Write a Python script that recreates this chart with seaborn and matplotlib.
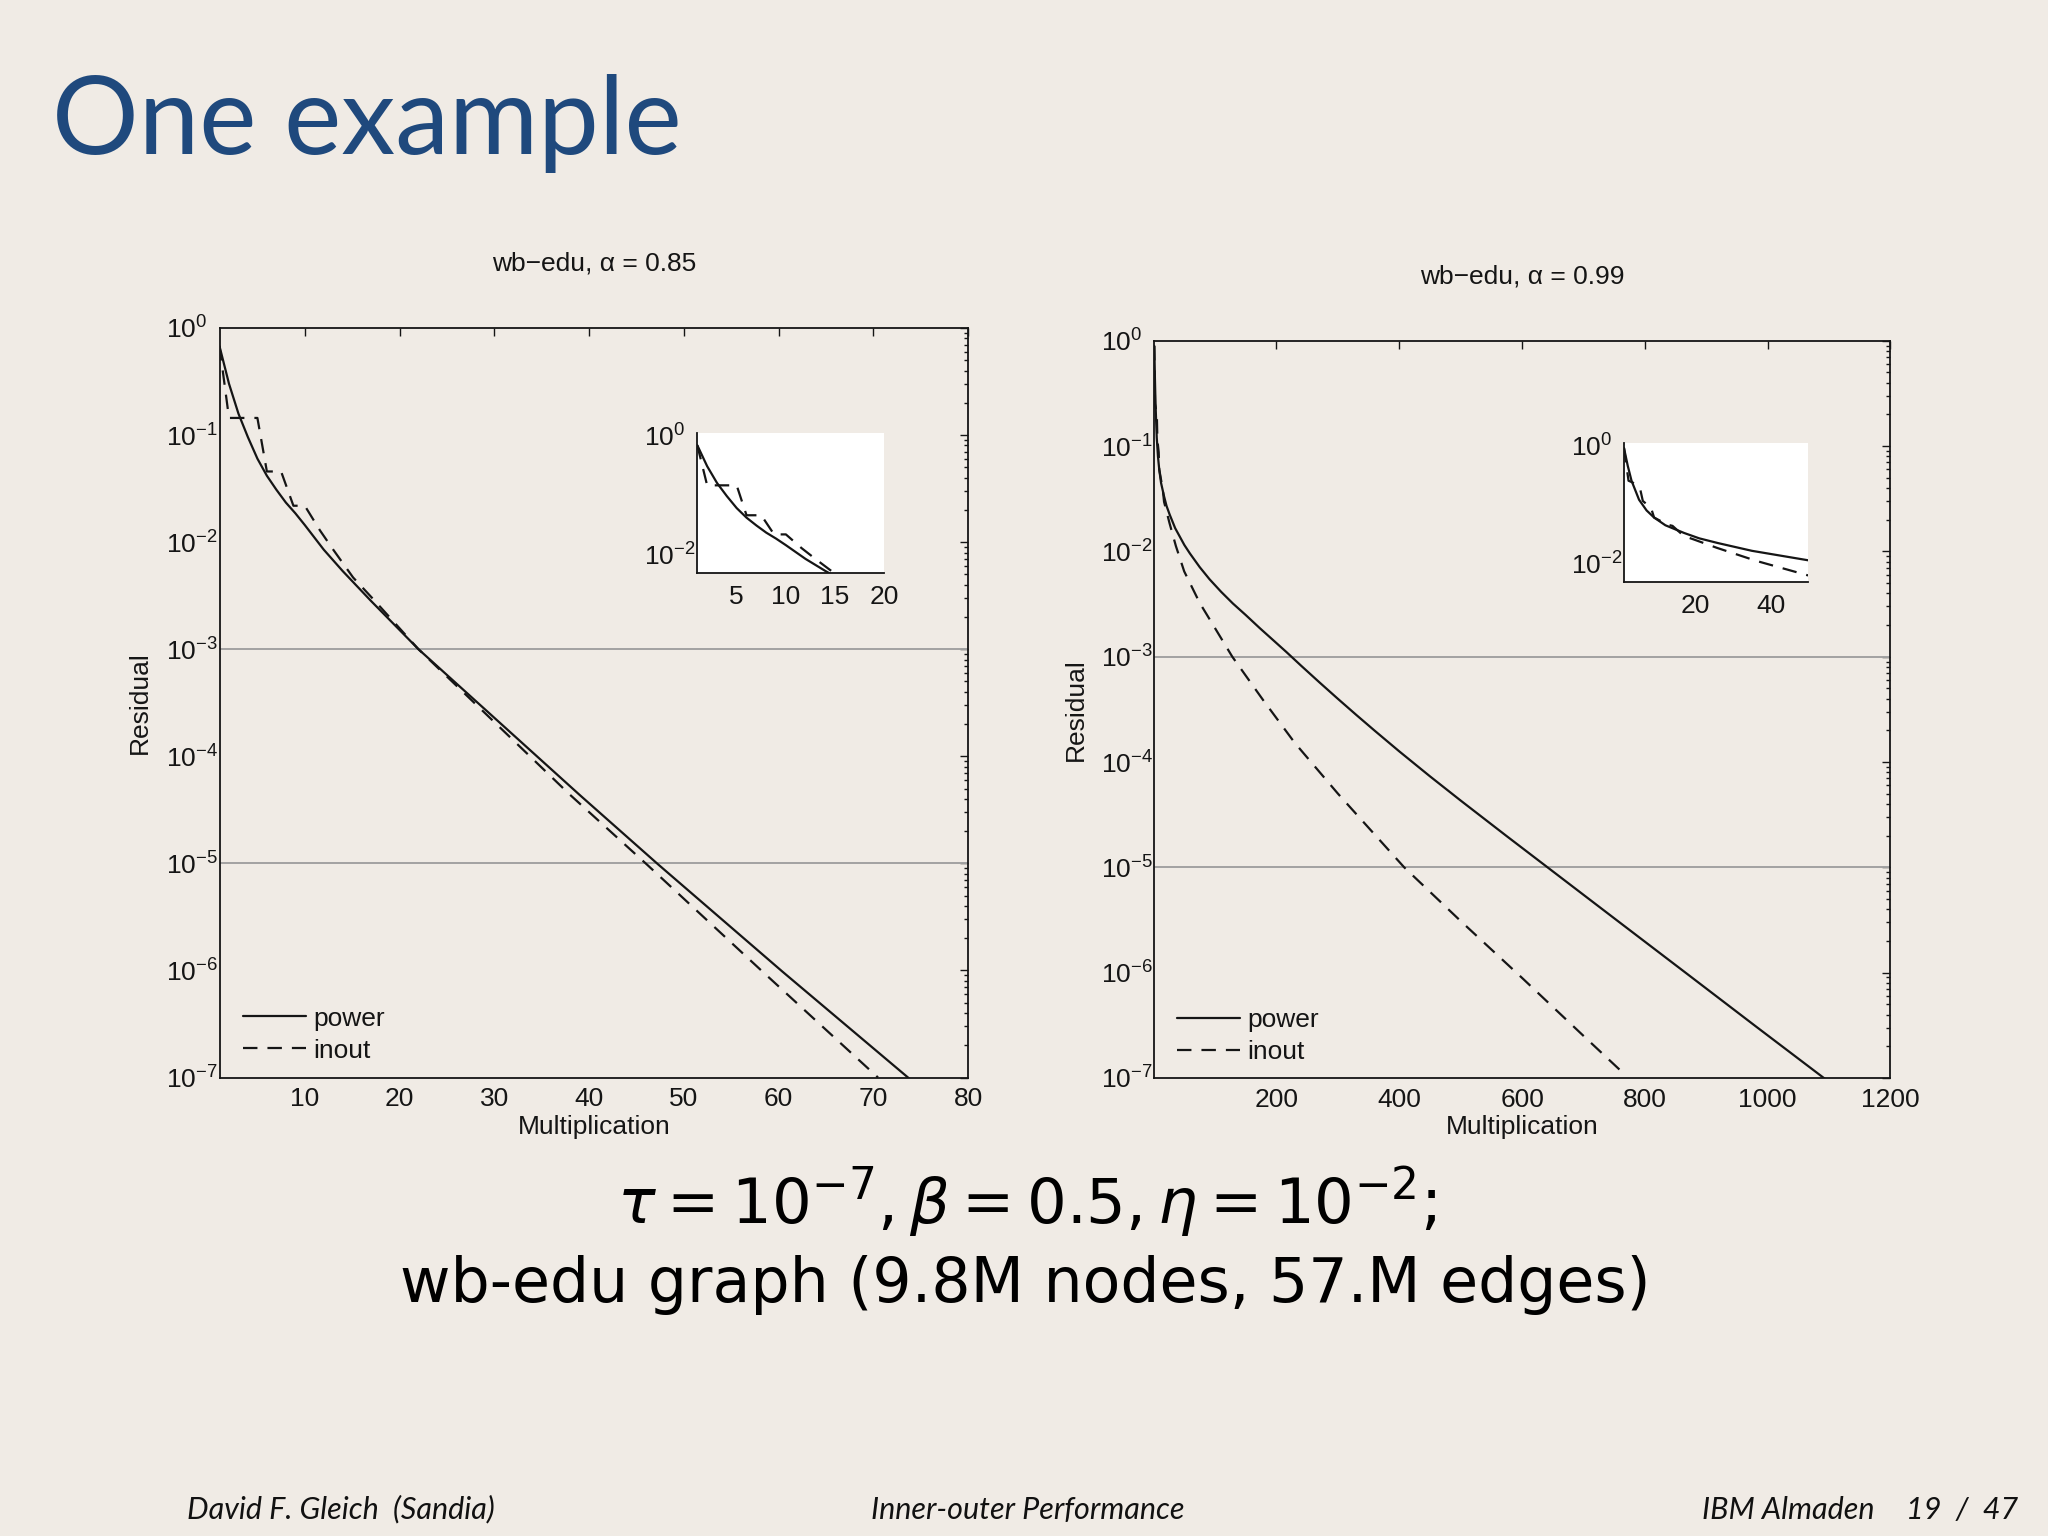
import numpy as np
import pandas as pd
import matplotlib
matplotlib.use("Agg")
import matplotlib.pyplot as plt
import seaborn as sns
from matplotlib.ticker import LogLocator, NullLocator, NullFormatter

# ---------------- data ----------------
# alpha = 0.85 : residual exponents (log10) vs. multiplications
power_085_x = [1, 2, 3, 4, 5, 6, 7, 8, 9, 10, 12, 14, 17, 22, 30, 39, 47.3, 60.4, 73.8]
power_085_log = [-0.17, -0.52, -0.80, -1.02, -1.22, -1.38, -1.51, -1.63, -1.73, -1.84,
                 -2.07, -2.27, -2.55, -3.00, -3.64, -4.36, -5.01, -6.01, -7.01]
inout_085_x = [1, 2, 5, 6, 7.5, 8.8, 10, 11.6, 13, 15.1, 17.2, 22, 38, 46.1, 58.3, 70.5]
inout_085_log = [-0.17, -0.84, -0.84, -1.34, -1.34, -1.66, -1.66, -1.89, -2.07, -2.33,
                 -2.53, -3.00, -4.36, -5.01, -6.01, -7.00]

# alpha = 0.99
power_099_x = [1, 2, 3, 5, 7, 9, 12, 17, 21, 26, 35, 50, 59, 75, 91, 110, 129, 150, 173,
               195, 216, 240, 270, 300, 330, 360, 400, 450, 500, 575, 650, 760, 870, 980, 1096]
power_099_log = [-0.05, -0.35, -0.60, -0.92, -1.10, -1.22, -1.35, -1.48, -1.57, -1.65,
                 -1.78, -1.94, -2.02, -2.15, -2.265, -2.385, -2.495, -2.605, -2.73,
                 -2.845, -2.955, -3.085, -3.244, -3.40, -3.553, -3.703, -3.899, -4.136,
                 -4.366, -4.704, -5.038, -5.528, -6.017, -6.507, -7.02]
inout_099_x = [1, 2.2, 3.3, 5.3, 6.0, 8.2, 9.0, 12.6, 13.9, 16.9, 19.6, 25.7, 36.2, 49.7,
               75, 100, 128, 178, 230, 300, 408, 500, 600, 700, 766]
inout_099_log = [-0.05, -0.60, -0.63, -0.74, -0.94, -1.06, -1.22, -1.34, -1.36, -1.53,
                 -1.59, -1.73, -1.95, -2.19, -2.49, -2.73, -3.00, -3.41, -3.82, -4.30,
                 -5.00, -5.51, -6.05, -6.60, -6.96]

methods = ["power", "inout"]
titles = ["wb\u2212edu, \u03b1 = 0.85", "wb\u2212edu, \u03b1 = 0.99"]
xticks_085 = [10, 20, 30, 40, 50, 60, 70, 80]
xticks_099 = [200, 400, 600, 800, 1000, 1200]
inset_xticks_085 = [5, 10, 15, 20]
inset_xticks_099 = [20, 40]
ytick_exps = [0, -1, -2, -3, -4, -5, -6, -7]
ref_levels = [1e-3, 1e-5]

# ---------------- style ----------------
sns.set_style("white")
BG = "#f0ebe5"
INK = "#151515"
plt.rcParams.update({
    "font.family": ["Liberation Sans", "DejaVu Sans"],
    "mathtext.fontset": "custom",
    "mathtext.rm": "Liberation Sans",
    "mathtext.it": "Liberation Sans:italic",
    "mathtext.bf": "Liberation Sans:bold",
    "mathtext.default": "regular",
    "axes.unicode_minus": True,
    "text.color": INK,
    "axes.labelcolor": INK,
    "xtick.color": INK,
    "ytick.color": INK,
})

DASH = (6.5, 4.5)
LW = 1.6
FS = 19


def make_df(px, plog, ix, ilog):
    d1 = pd.DataFrame({"Multiplication": px, "Residual": 10.0 ** np.array(plog), "method": "power"})
    d2 = pd.DataFrame({"Multiplication": ix, "Residual": 10.0 ** np.array(ilog), "method": "inout"})
    return pd.concat([d1, d2], ignore_index=True)


def draw_curves(ax, df):
    sns.lineplot(data=df, x="Multiplication", y="Residual", style="method",
                 style_order=methods, dashes={"power": "", "inout": DASH},
                 color=INK, linewidth=LW, estimator=None, sort=False,
                 legend=False, ax=ax, zorder=3)


def style_main(ax, xlim, xticks, title, title_y, legend_anchor):
    ax.set_yscale("log")
    ax.set_xlim(*xlim)
    ax.set_ylim(1e-7, 1.0)
    ax.set_yticks([10.0 ** e for e in ytick_exps],
                  labels=[r"$10^{%d}$" % e for e in ytick_exps], ha="left")
    ax.yaxis.set_minor_locator(LogLocator(base=10, subs=np.arange(2, 10), numticks=100))
    ax.yaxis.set_minor_formatter(NullFormatter())
    ax.set_xticks(xticks, labels=[str(v) for v in xticks])
    ax.tick_params(axis="both", which="both", direction="in", top=True, right=True,
                   width=1.0, labelsize=FS)
    ax.tick_params(axis="both", which="major", length=6)
    ax.tick_params(axis="both", which="minor", length=3)
    ax.tick_params(axis="y", which="both", pad=38.5)
    ax.tick_params(axis="x", which="both", pad=7)
    for s in ax.spines.values():
        s.set_visible(True)
        s.set_color(INK)
        s.set_linewidth(1.3)
    ax.set_xlabel("Multiplication", fontsize=FS, va="center")
    ax.set_ylabel("Residual", fontsize=FS, va="center")
    ax.xaxis.set_label_coords(0.5, -0.066)
    ax.yaxis.set_label_coords(-0.1065, 0.5)
    ax.set_title(title, fontsize=19, y=title_y, va="center", pad=0, color=INK)
    lines = [l for l in ax.get_lines() if l.get_gid() != "ref"][:2]
    ax.legend(lines, methods, loc="lower left", bbox_to_anchor=legend_anchor,
              frameon=False, fontsize=FS, handlelength=2.4, handletextpad=0.25,
              labelspacing=0.3, borderpad=0, borderaxespad=0)


def style_inset(ax, xlim, xticks):
    ax.set_facecolor("white")
    ax.set_yscale("log")
    ax.set_xlim(*xlim)
    ax.set_ylim(10 ** -2.3, 10 ** 0.04)
    ax.set_yticks([1.0, 1e-2], labels=[r"$10^{0}$", r"$10^{-2}$"], ha="left")
    ax.yaxis.set_minor_locator(NullLocator())
    ax.set_xticks(xticks, labels=[str(v) for v in xticks])
    ax.tick_params(axis="both", which="major", direction="in", length=3.5, width=1.0,
                   labelsize=FS)
    ax.tick_params(axis="y", pad=38.5)
    ax.tick_params(axis="x", pad=9)
    ax.set_xlabel("")
    ax.set_ylabel("")
    for k in ("top", "right"):
        ax.spines[k].set_visible(False)
    for k in ("left", "bottom"):
        ax.spines[k].set_visible(True)
        ax.spines[k].set_color(INK)
        ax.spines[k].set_linewidth(1.3)


fig = plt.figure(figsize=(20.48, 15.36), dpi=100, facecolor=BG)

df85 = make_df(power_085_x, power_085_log, inout_085_x, inout_085_log)
df99 = make_df(power_099_x, power_099_log, inout_099_x, inout_099_log)

axL = fig.add_axes([0.10718, 0.29850, 0.36548, 0.48796], facecolor=BG)
axR = fig.add_axes([0.56362, 0.29818, 0.35947, 0.48001], facecolor=BG)

for ax, df in ((axL, df85), (axR, df99)):
    for lev in ref_levels:
        ax.axhline(lev, color="#a2a2a2", linewidth=1.4, zorder=1, gid="ref")
    draw_curves(ax, df)

style_main(axL, (1, 80), xticks_085, titles[0], 1.0854, (0.0314, 0.020))
style_main(axR, (1, 1200), xticks_099, titles[1], 1.0864, (0.0308, 0.019))

insL = fig.add_axes([0.34048, 0.62715, 0.09131, 0.09115])
draw_curves(insL, df85)
style_inset(insL, (1, 20), inset_xticks_085)

insR = fig.add_axes([0.79297, 0.62129, 0.08999, 0.09049])
draw_curves(insR, df99)
style_inset(insR, (1, 50), inset_xticks_099)

# ---------------- slide text ----------------
fig.text(0.0254, 0.8997, "One example", fontsize=78, color="#1F497D",
         family=["Lato", "DejaVu Sans"], va="baseline", ha="left")
fig.text(1027 / 2048, 1 - 1224 / 1536,
         r"$\mathit{\tau} = 10^{-7}, \mathit{\beta} = 0.5, \mathit{\eta} = 10^{-2}$;",
         fontsize=45, ha="center", va="baseline", family=["DejaVu Sans"],
         math_fontfamily="dejavusans", color="black")
fig.text(1025 / 2048, 1 - 1302 / 1536, "wb-edu graph (9.8M nodes, 57.M edges)",
         fontsize=44.5, ha="center", va="baseline", family=["DejaVu Sans"], color="black")

foot = dict(fontsize=22, style="italic", family=["Lato", "DejaVu Sans"], va="baseline",
            color="#111111")
fig.text(0.0913, 0.0111, "David F. Gleich  (Sandia)", ha="left", **foot)
fig.text(0.4253, 0.0111, "Inner-outer Performance", ha="left", **foot)
fig.text(0.8310, 0.0111, "IBM Almaden", ha="left", **foot)
fig.text(0.9854, 0.0111, "19  /  47", ha="right", **foot)

fig.savefig("out.png", dpi=100, facecolor=BG)
